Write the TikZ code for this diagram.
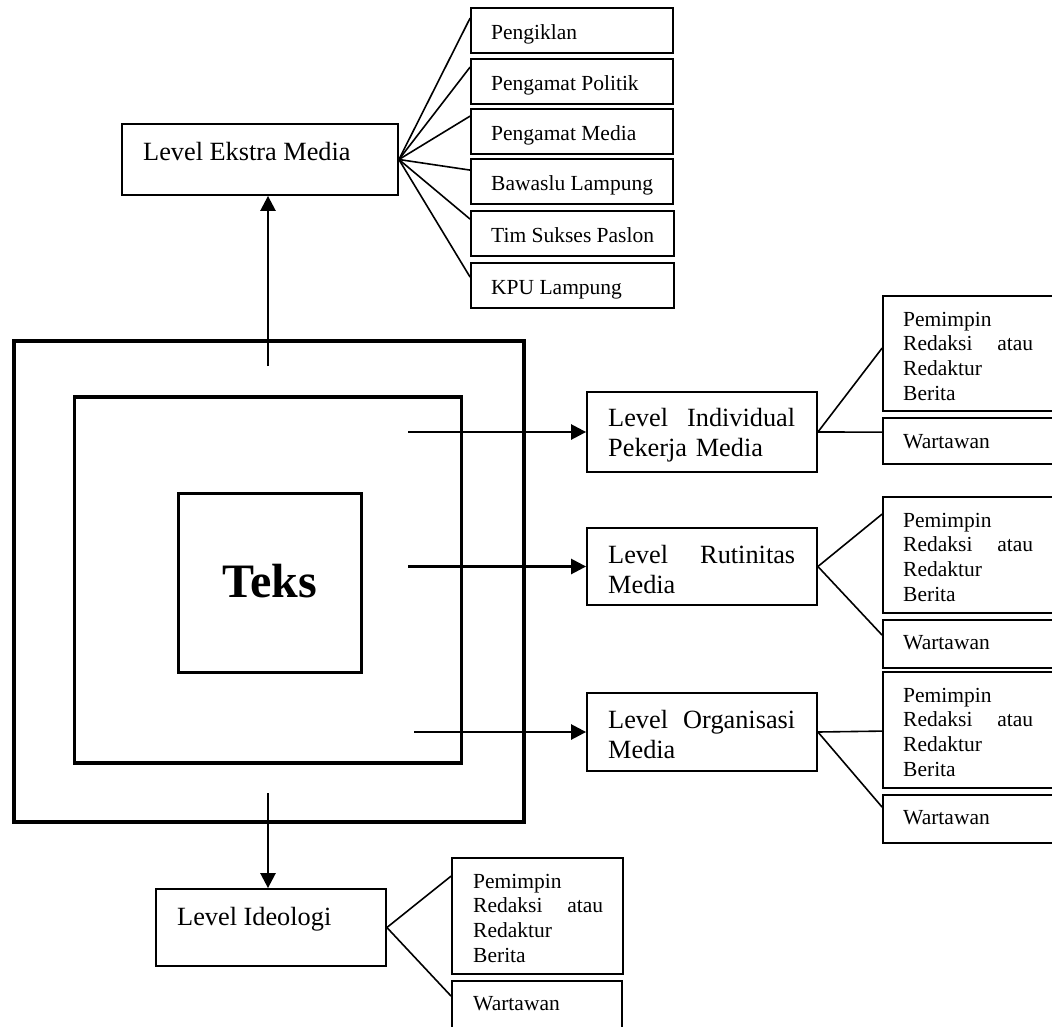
\documentclass[tikz,border=0pt]{standalone}
\usepackage{fontspec}
\setmainfont{Liberation Serif}
\usetikzlibrary{arrows.meta,calc}
\newcommand\lvlfont{\fontsize{26.3pt}{30.5pt}\selectfont}
\newcommand\subfont{\fontsize{21.5pt}{24.7pt}\selectfont}
\newcommand\teksfont{\fontsize{48pt}{56pt}\selectfont\bfseries}
\begin{document}
\begin{tikzpicture}[x=1pt,y=-1pt,
  box/.style={draw, line width=1.8pt, rectangle, inner sep=0pt},
  sq/.style={draw, rectangle, inner sep=0pt},
  txt/.style={inner sep=0pt, anchor=base west, align=left},
  fan/.style={line width=1.6pt},
  arr/.style={line width=2.5pt, -{Triangle[length=15pt,width=15pt]}},
]
\useasboundingbox (0,0) rectangle (1052,1026);

% nested squares
\node[sq, line width=4pt, minimum width=510pt, minimum height=481pt] (outer) at (268.5,581.5) {};
\node[sq, line width=3.5pt, minimum width=387pt, minimum height=366pt] (middle) at (268,580) {};
\node[sq, line width=3pt, minimum width=183pt, minimum height=179pt] (inner) at (269.5,582.5) {};
\node[anchor=base, inner sep=0pt, font=\teksfont] (teks) at (269.5,597) {Teks};

% Level Ekstra Media
\node[box, minimum width=276pt, minimum height=71pt] (ekstra) at (260,159.5) {};
\node[txt, font=\lvlfont] (ekstraT) at (143,160) {Level Ekstra Media};

\node[box, minimum width=202pt, minimum height=45pt] (b1) at (572,30.5) {};
\node[txt, font=\subfont] (b1t) at (491,39) {Pengiklan};
\node[box, minimum width=202pt, minimum height=45pt] (b2) at (572,81.5) {};
\node[txt, font=\subfont] (b2t) at (491,90) {Pengamat Politik};
\node[box, minimum width=202pt, minimum height=45pt] (b3) at (572,131.5) {};
\node[txt, font=\subfont] (b3t) at (491,140) {Pengamat Media};
\node[box, minimum width=202pt, minimum height=45pt] (b4) at (572,181.5) {};
\node[txt, font=\subfont] (b4t) at (491,190) {Bawaslu Lampung};
\node[box, minimum width=203pt, minimum height=45pt] (b5) at (572.5,233.5) {};
\node[txt, font=\subfont] (b5t) at (491,242) {Tim Sukses Paslon};
\node[box, minimum width=203pt, minimum height=45pt] (b6) at (572.5,285.5) {};
\node[txt, font=\subfont] (b6t) at (491,294) {KPU Lampung};

\draw[fan] (ekstra.east) -- ($(b1.north west)+(0,11)$);
\draw[fan] (ekstra.east) -- ($(b2.north west)+(0,9)$);
\draw[fan] (ekstra.east) -- ($(b3.north west)+(0,8)$);
\draw[fan] (ekstra.east) -- ($(b4.north west)+(0,12)$);
\draw[fan] (ekstra.east) -- ($(b5.north west)+(0,9)$);
\draw[fan] (ekstra.east) -- ($(b6.north west)+(0,15)$);

% Level Individual
\node[box, minimum width=230pt, minimum height=80pt] (ind) at (702,432) {};
\node[txt, text width=187pt, font=\lvlfont] (indT) at (608,426) {Level \hfill Individual\\Pekerja Media};
\node[box, minimum width=171pt, minimum height=115pt] (p1) at (968.5,353.5) {};
\node[txt, text width=130pt, font=\subfont] (p1t) at (903,326) {Pemimpin\\Redaksi \hfill atau\\Redaktur\\Berita};
\node[box, minimum width=171pt, minimum height=46pt] (w1) at (968.5,441) {};
\node[txt, font=\subfont] (w1t) at (903,448) {Wartawan};
\draw[fan] (ind.east) -- ($(p1.north west)+(0,53)$);
\draw[fan] (ind.east) -- ($(w1.north west)+(0,15)$);

% Level Rutinitas
\node[box, minimum width=230pt, minimum height=77pt] (rut) at (702,566.5) {};
\node[txt, text width=187pt, font=\lvlfont] (rutT) at (608,563) {Level \hfill Rutinitas\\Media};
\node[box, minimum width=171pt, minimum height=116pt] (p2) at (968.5,555) {};
\node[txt, text width=130pt, font=\subfont] (p2t) at (903,527) {Pemimpin\\Redaksi \hfill atau\\Redaktur\\Berita};
\node[box, minimum width=171pt, minimum height=48pt] (w2) at (968.5,644) {};
\node[txt, font=\subfont] (w2t) at (903,649) {Wartawan};
\draw[fan] (rut.east) -- ($(p2.north west)+(0,18)$);
\draw[fan] (rut.east) -- ($(w2.north west)+(0,16)$);

% Level Organisasi
\node[box, minimum width=230pt, minimum height=78pt] (org) at (702,732) {};
\node[txt, text width=187pt, font=\lvlfont] (orgT) at (608,728) {Level \hfill Organisasi\\Media};
\node[box, minimum width=171pt, minimum height=116pt] (p3) at (968.5,730) {};
\node[txt, text width=130pt, font=\subfont] (p3t) at (903,702) {Pemimpin\\Redaksi \hfill atau\\Redaktur\\Berita};
\node[box, minimum width=171pt, minimum height=48pt] (w3) at (968.5,819) {};
\node[txt, font=\subfont] (w3t) at (903,824) {Wartawan};
\draw[fan] (org.east) -- ($(p3.north west)+(0,60)$);
\draw[fan] (org.east) -- ($(w3.north west)+(0,13)$);

% Level Ideologi
\node[box, minimum width=230pt, minimum height=77pt] (ideo) at (271,927.5) {};
\node[txt, font=\lvlfont] (ideoT) at (177,925) {Level Ideologi};
\node[box, minimum width=171pt, minimum height=116pt] (p4) at (537.5,916) {};
\node[txt, text width=130pt, font=\subfont] (p4t) at (473,888) {Pemimpin\\Redaksi \hfill atau\\Redaktur\\Berita};
\node[box, minimum width=170pt, minimum height=48pt] (w4) at (537,1005) {};
\node[txt, font=\subfont] (w4t) at (473,1010) {Wartawan};
\draw[fan] (ideo.east) -- ($(p4.north west)+(0,19)$);
\draw[fan] (ideo.east) -- ($(w4.north west)+(0,16)$);

% arrows
\coordinate (a1) at (408,432);
\coordinate (a2) at (408,566.5);
\coordinate (a3) at (414,732);
\coordinate (au) at (268,366);
\coordinate (ad) at (268,793);
\draw[arr] (a1) -- (ind.west);
\draw[arr] (a2) -- (rut.west);
\draw[arr] (a3) -- (org.west);
\draw[arr] (au) -- (au |- ekstra.south);
\draw[arr] (ad) -- (ad |- ideo.north);
\end{tikzpicture}
\end{document}
